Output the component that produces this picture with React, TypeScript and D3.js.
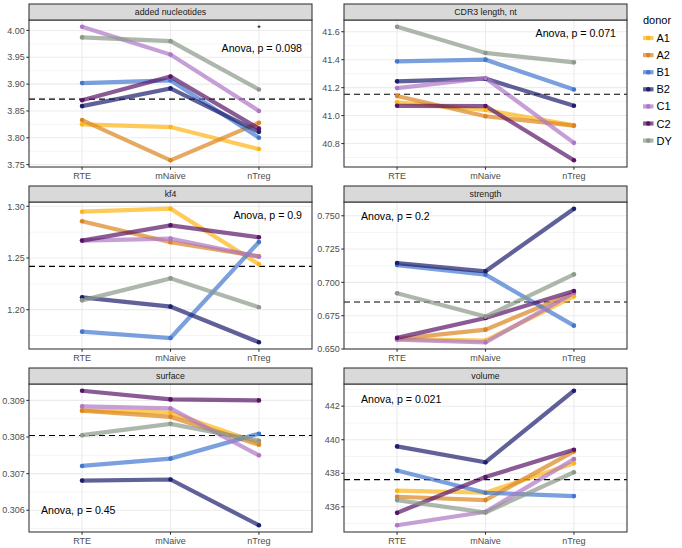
import React, { useEffect, useRef } from 'react';
import * as d3 from 'd3';

// categories on the x axis and the donors (one line each)
const categories = ['RTE', 'mNaive', 'nTreg'];
const donors = ['A1', 'A2', 'B1', 'B2', 'C1', 'C2', 'DY'];
const donorColors = ['#FDB515', '#DB8420', '#4377CE', '#1E1E6E', '#AE76C6', '#581566', '#8C9889'];

// values per donor, in donors order: [RTE, mNaive, nTreg]
const addedNucleotides = [
  [3.825, 3.820, 3.779],
  [3.833, 3.758, 3.828],
  [3.902, 3.907, 3.800],
  [3.859, 3.892, 3.811],
  [4.007, 3.955, 3.850],
  [3.870, 3.914, 3.817],
  [3.987, 3.980, 3.890],
];
const cdr3Length = [
  [41.095, 41.040, 40.930],
  [41.140, 40.995, 40.928],
  [41.388, 41.400, 41.187],
  [41.245, 41.264, 41.070],
  [41.197, 41.268, 40.805],
  [41.070, 41.068, 40.680],
  [41.636, 41.448, 41.381],
];
const kf4 = [
  [1.2948, 1.2977, 1.2439],
  [1.2855, 1.2652, 1.2516],
  [1.1787, 1.1726, 1.2655],
  [1.2119, 1.2029, 1.1684],
  [1.2668, 1.2687, 1.2513],
  [1.2668, 1.2816, 1.2700],
  [1.2090, 1.2303, 1.2023],
];
const strength = [
  [0.6575, 0.6563, 0.6895],
  [0.6575, 0.6645, 0.6920],
  [0.7130, 0.7058, 0.6675],
  [0.7145, 0.7083, 0.7553],
  [0.6570, 0.6550, 0.6920],
  [0.6583, 0.6733, 0.6935],
  [0.6918, 0.6743, 0.7060],
];
const surface = [
  [0.308727, 0.308665, 0.30784],
  [0.308720, 0.308550, 0.30779],
  [0.307210, 0.307410, 0.30809],
  [0.306810, 0.306840, 0.30559],
  [0.308836, 0.308780, 0.30750],
  [0.309264, 0.309027, 0.30900],
  [0.308050, 0.308360, 0.30790],
];
const volume = [
  [436.96, 436.84, 438.60],
  [436.60, 436.40, 439.30],
  [438.16, 436.84, 436.64],
  [439.60, 438.66, 442.92],
  [434.90, 435.70, 438.84],
  [435.64, 437.78, 439.40],
  [436.40, 435.66, 438.06],
];

const panelTitles = ['added nucleotides', 'CDR3 length, nt', 'kf4', 'strength', 'surface', 'volume'];
const panelValues = [addedNucleotides, cdr3Length, kf4, strength, surface, volume];
const meanLines = [3.872, 41.153, 1.2419, 0.6853, 0.30804, 437.62];
const anovaLabels = ['Anova, p = 0.098', 'Anova, p = 0.071', 'Anova, p = 0.9', 'Anova, p = 0.2', 'Anova, p = 0.45', 'Anova, p = 0.021'];
const yTicks = [
  [3.75, 3.80, 3.85, 3.90, 3.95, 4.00],
  [40.8, 41.0, 41.2, 41.4, 41.6],
  [1.20, 1.25, 1.30],
  [0.650, 0.675, 0.700, 0.725, 0.750],
  [0.306, 0.307, 0.308, 0.309],
  [436, 438, 440, 442],
];
const tickFormats = ['.2f', '.1f', '.2f', '.3f', '.3f', 'd'];

// layout (pixels)
const W = 682;
const H = 548;
const colX = [[29, 312], [344, 627]];
const stripTop = [4, 186, 368];
const plotBottom = [167, 349, 532];
const stripH = 16;
// annotation placement: anchor side, x offset from that side, y offset from top (+) or bottom (-)
const anovaPos = [
  { side: 'end', dx: 10, top: true, dy: 32 },
  { side: 'end', dx: 11, top: true, dy: 17 },
  { side: 'end', dx: 10, top: true, dy: 17 },
  { side: 'start', dx: 17, top: true, dy: 18 },
  { side: 'start', dx: 12, top: false, dy: 18 },
  { side: 'start', dx: 17, top: true, dy: 19 },
];
const FONT = "'Liberation Sans', Arial, sans-serif";

const App = () => {
  const svgRef = useRef<SVGSVGElement>(null);

  useEffect(() => {
    const svg = d3.select(svgRef.current).attr('width', W).attr('height', H);
    svg.selectAll('*').remove();
    svg.style('font-family', FONT);

    panelValues.forEach((values, p) => {
      const [x0, x1] = colX[p % 2];
      const row = Math.floor(p / 2);
      const top = stripTop[row] + stripH;
      const bottom = plotBottom[row];

      const x = d3.scalePoint<string>().domain(categories).range([x0, x1]).padding(0.6);
      const ext = d3.extent(values.flat()) as [number, number];
      const pad = (ext[1] - ext[0]) * 0.05;
      const y = d3.scaleLinear().domain([ext[0] - pad, ext[1] + pad]).range([bottom, top]);

      const g = svg.append('g');
      g.append('rect').attr('x', x0).attr('y', top).attr('width', x1 - x0).attr('height', bottom - top).attr('fill', 'white');

      // minor grid
      const ticks = yTicks[p];
      const step = ticks[1] - ticks[0];
      const minor = d3.range(ticks.length + 1).map((i) => ticks[0] - step / 2 + i * step)
        .filter((v) => v > y.domain()[0] && v < y.domain()[1]);
      g.selectAll('.minor').data(minor).enter().append('line')
        .attr('x1', x0).attr('x2', x1).attr('y1', (d) => y(d)).attr('y2', (d) => y(d))
        .attr('stroke', '#EBEBEB').attr('stroke-width', 0.55);
      // major grid
      g.selectAll('.majy').data(ticks).enter().append('line')
        .attr('x1', x0).attr('x2', x1).attr('y1', (d) => y(d)).attr('y2', (d) => y(d))
        .attr('stroke', '#EBEBEB').attr('stroke-width', 1.07);
      g.selectAll('.majx').data(categories).enter().append('line')
        .attr('x1', (d) => x(d)!).attr('x2', (d) => x(d)!).attr('y1', top).attr('y2', bottom)
        .attr('stroke', '#EBEBEB').attr('stroke-width', 1.07);

      // mean line
      g.append('line').attr('x1', x0).attr('x2', x1).attr('y1', y(meanLines[p])).attr('y2', y(meanLines[p]))
        .attr('stroke', 'black').attr('stroke-width', 1.1).attr('stroke-dasharray', '6,4');

      // donor lines
      const line = d3.line<number>().x((_, i) => x(categories[i])!).y((d) => y(d));
      g.selectAll('.donor').data(values).enter().append('path')
        .attr('d', (d) => line(d))
        .attr('fill', 'none')
        .attr('stroke', (_, i) => donorColors[i])
        .attr('stroke-width', 4.2)
        .attr('stroke-linecap', 'butt')
        .attr('stroke-opacity', 0.7);
      values.forEach((row, i) => {
        g.selectAll(null).data(row).enter().append('circle')
          .attr('cx', (_, j) => x(categories[j])!)
          .attr('cy', (d) => y(d))
          .attr('r', 2.3)
          .attr('fill', donorColors[i]);
      });

      // panel border
      g.append('rect').attr('x', x0).attr('y', top).attr('width', x1 - x0).attr('height', bottom - top)
        .attr('fill', 'none').attr('stroke', '#333333').attr('stroke-width', 1.07);

      // strip
      g.append('rect').attr('x', x0).attr('y', stripTop[row]).attr('width', x1 - x0).attr('height', stripH)
        .attr('fill', '#D9D9D9').attr('stroke', '#333333').attr('stroke-width', 1.07);
      g.append('text').attr('x', (x0 + x1) / 2).attr('y', stripTop[row] + stripH / 2 + 3.1)
        .attr('text-anchor', 'middle').attr('font-size', 8.8).attr('fill', '#1A1A1A').text(panelTitles[p]);

      // y axis
      const fmt = d3.format(tickFormats[p]);
      g.selectAll('.yt').data(ticks).enter().append('line')
        .attr('x1', x0 - 2.7).attr('x2', x0).attr('y1', (d) => y(d)).attr('y2', (d) => y(d))
        .attr('stroke', '#333333').attr('stroke-width', 1.07);
      g.selectAll('.yl').data(ticks).enter().append('text')
        .attr('x', x0 - 4.2).attr('y', (d) => y(d) + 3.2)
        .attr('text-anchor', 'end').attr('font-size', 9).attr('fill', '#4D4D4D')
        .text((d) => fmt(d));

      // x axis
      g.selectAll('.xt').data(categories).enter().append('line')
        .attr('x1', (d) => x(d)!).attr('x2', (d) => x(d)!).attr('y1', bottom).attr('y2', bottom + 2.7)
        .attr('stroke', '#333333').attr('stroke-width', 1.07);
      g.selectAll('.xl').data(categories).enter().append('text')
        .attr('x', (d) => x(d)!).attr('y', bottom + 11.5)
        .attr('text-anchor', 'middle').attr('font-size', 9).attr('fill', '#4D4D4D')
        .text((d) => d);

      // anova label
      const pos = anovaPos[p];
      g.append('text')
        .attr('x', pos.side === 'end' ? x1 - pos.dx : x0 + pos.dx)
        .attr('y', pos.top ? top + pos.dy : bottom - pos.dy)
        .attr('text-anchor', pos.side)
        .attr('font-size', 10.6).attr('fill', 'black')
        .text(anovaLabels[p]);
      if (p === 0) {
        g.append('text').attr('x', x('nTreg')!).attr('y', top + 11)
          .attr('text-anchor', 'middle').attr('font-size', 9).attr('fill', 'black')
          .text('*');
      }
    });

    // legend
    const lg = svg.append('g');
    lg.append('text').attr('x', 643).attr('y', 24).attr('font-size', 11).attr('fill', 'black').text('donor');
    donors.forEach((d, i) => {
      const cy = 38 + i * 17.1;
      lg.append('line').attr('x1', 643).attr('x2', 653.5).attr('y1', cy).attr('y2', cy)
        .attr('stroke', donorColors[i]).attr('stroke-width', 4.2).attr('stroke-opacity', 0.7);
      lg.append('circle').attr('cx', 648.2).attr('cy', cy).attr('r', 2.3).attr('fill', donorColors[i]);
      lg.append('text').attr('x', 656.5).attr('y', cy + 4).attr('font-size', 11).attr('fill', 'black').text(d);
    });
  }, []);

  return <svg ref={svgRef} style={{ display: 'block', position: 'absolute', left: 0, top: 0 }}></svg>;
};

export default App;
